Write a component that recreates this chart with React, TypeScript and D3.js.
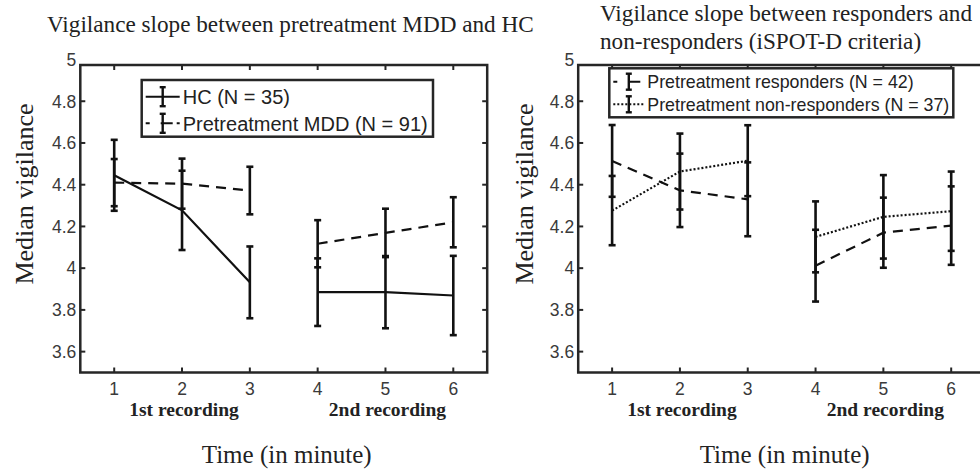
import React from 'react';
import * as d3 from 'd3';

// ---------- data ----------
const MINUTES = [1, 2, 3, 4, 5, 6];
const RECORDING = [1, 1, 1, 2, 2, 2];
const RECORDING_LABELS = ['1st recording', '2nd recording'];
const RECORDING_LABEL_AT = [2, 5];
const Y_TICKS = [3.6, 3.8, 4, 4.2, 4.4, 4.6, 4.8, 5];
const Y_DOMAIN = [3.5, 5];
const X_DOMAIN = [0.5, 6.5];

const HC_MEAN = [4.445, 4.277, 3.932, 3.885, 3.885, 3.869];
const HC_ERR = [0.17, 0.19, 0.172, 0.162, 0.173, 0.19];
const MDD_MEAN = [4.41, 4.405, 4.372, 4.117, 4.169, 4.22];
const MDD_ERR = [0.113, 0.12, 0.114, 0.113, 0.116, 0.12];
const RESP_MEAN = [4.514, 4.373, 4.33, 4.012, 4.17, 4.204];
const RESP_ERR = [0.172, 0.176, 0.177, 0.172, 0.168, 0.188];
const NONRESP_MEAN = [4.276, 4.463, 4.515, 4.15, 4.246, 4.273];
const NONRESP_ERR = [0.166, 0.182, 0.17, 0.17, 0.2, 0.19];

const LEFT_TITLE = ['Vigilance slope between pretreatment MDD and HC'];
const RIGHT_TITLE = ['Vigilance slope between responders and', 'non-responders (iSPOT-D criteria)'];
const Y_LABEL = 'Median vigilance';
const X_LABEL = 'Time (in minute)';

// ---------- styles ----------
const SERIF = '"Liberation Serif", "Times New Roman", serif';
const SANS = '"Liberation Sans", Arial, sans-serif';
const FRAME = '#262626';
const TICK_TEXT = '#3a3a3a';
const DASH = '10,7';
const DOT = '2,2';

type Series = { mean: number[]; err: number[]; dash: string | null; label: string };

type PanelProps = {
  x0: number;
  x1: number;
  title: string[];
  titleX: number;
  titleY: number[];
  series: Series[];
  legend: { x: number; y: number; w: number; h: number; rowY: number[]; fontSize: number; barHalf: number; sampleW: number };
  yLabelX: number;
};

const FRAME_TOP = 65;
const Y_RANGE = [372.5, 59.5];

function Panel({ x0, x1, title, titleX, titleY, series, legend, yLabelX }: PanelProps) {
  const x = d3.scaleLinear().domain(X_DOMAIN).range([x0, x1]);
  const y = d3.scaleLinear().domain(Y_DOMAIN).range(Y_RANGE);
  const bottom = y(Y_DOMAIN[0]);
  const groups = Array.from(new Set(RECORDING));
  const cap = 3.5;
  const tickLen = 5;

  return (
    <g>
      {title.map((t, i) => (
        <text key={i} x={titleX} y={titleY[i]} fontFamily={SERIF} fontSize={23.2} fill="#222">
          {t}
        </text>
      ))}

      {/* data */}
      {series.map((s, si) => {
        const l = d3
          .line<number>()
          .x((i) => x(MINUTES[i]))
          .y((i) => y(s.mean[i]));
        return (
          <g key={si}>
            {groups.map((g) => {
              const idx = MINUTES.map((_, i) => i).filter((i) => RECORDING[i] === g);
              return (
                <path
                  key={g}
                  d={l(idx) || ''}
                  fill="none"
                  stroke="#111"
                  strokeWidth={2.2}
                  strokeDasharray={s.dash || undefined}
                />
              );
            })}
            {MINUTES.map((m, i) => {
              const cx = x(m);
              const yt = y(s.mean[i] + s.err[i]);
              const yb = y(s.mean[i] - s.err[i]);
              return (
                <g key={i} stroke="#111" strokeWidth={2.6}>
                  <line x1={cx} x2={cx} y1={yt} y2={yb} />
                  <line x1={cx - cap} x2={cx + cap} y1={yt} y2={yt} />
                  <line x1={cx - cap} x2={cx + cap} y1={yb} y2={yb} />
                </g>
              );
            })}
          </g>
        );
      })}

      {/* frame */}
      <rect x={x0} y={FRAME_TOP} width={x1 - x0} height={bottom - FRAME_TOP} fill="none" stroke={FRAME} strokeWidth={2.5} />
      {MINUTES.map((m) => (
        <g key={m} stroke={FRAME} strokeWidth={2}>
          <line x1={x(m)} x2={x(m)} y1={bottom} y2={bottom - tickLen} />
          <line x1={x(m)} x2={x(m)} y1={FRAME_TOP} y2={FRAME_TOP + tickLen} />
        </g>
      ))}
      {Y_TICKS.filter((t) => y(t) > FRAME_TOP + 2).map((t) => (
        <g key={t} stroke={FRAME} strokeWidth={2}>
          <line x1={x0} x2={x0 + tickLen} y1={y(t)} y2={y(t)} />
          <line x1={x1} x2={x1 - tickLen} y1={y(t)} y2={y(t)} />
        </g>
      ))}
      {Y_TICKS.map((t) => (
        <text key={t} x={x0 - 4} y={y(t)} dy="0.36em" textAnchor="end" fontFamily={SANS} fontSize={17.5} fill={TICK_TEXT}>
          {d3.format('~g')(t)}
        </text>
      ))}
      {MINUTES.map((m) => (
        <text key={m} x={x(m)} y={395} textAnchor="middle" fontFamily={SANS} fontSize={17.5} fill={TICK_TEXT}>
          {m}
        </text>
      ))}
      {RECORDING_LABELS.map((r, i) => (
        <text key={r} x={x(RECORDING_LABEL_AT[i]) + 2} y={416} textAnchor="middle" fontFamily={SERIF} fontWeight="bold" fontSize={19.5} fill="#222">
          {r}
        </text>
      ))}
      <text x={(x0 + x1) / 2 + 3} y={463} textAnchor="middle" fontFamily={SERIF} fontSize={25} fill="#222">
        {X_LABEL}
      </text>
      <text
        transform={`translate(${yLabelX},194) rotate(-90)`}
        textAnchor="middle"
        dy="0.35em"
        fontFamily={SERIF}
        fontSize={26}
        fill="#222"
      >
        {Y_LABEL}
      </text>

      {/* legend */}
      <rect x={legend.x} y={legend.y} width={legend.w} height={legend.h} fill="#fff" stroke={FRAME} strokeWidth={2.5} />
      {series.map((s, si) => {
        const ly = legend.rowY[si];
        const sx = legend.x + 4;
        const bx = sx + legend.sampleW / 2;
        return (
          <g key={si}>
            <line
              x1={sx}
              x2={sx + legend.sampleW}
              y1={ly}
              y2={ly}
              stroke="#111"
              strokeWidth={2}
              strokeDasharray={s.dash ? (s.dash === DASH ? '4,11,12' : s.dash) : undefined}
            />
            <g stroke="#111" strokeWidth={2.4}>
              <line x1={bx} x2={bx} y1={ly - legend.barHalf} y2={ly + legend.barHalf} />
              <line x1={bx - 3} x2={bx + 3} y1={ly - legend.barHalf} y2={ly - legend.barHalf} />
              <line x1={bx - 3} x2={bx + 3} y1={ly + legend.barHalf} y2={ly + legend.barHalf} />
            </g>
            <text x={sx + legend.sampleW + 3} y={ly} dy="0.36em" fontFamily={SANS} fontSize={legend.fontSize} fill="#222">
              {s.label}
            </text>
          </g>
        );
      })}
    </g>
  );
}

export default function App() {
  const leftSeries: Series[] = [
    { mean: HC_MEAN, err: HC_ERR, dash: null, label: 'HC (N = 35)' },
    { mean: MDD_MEAN, err: MDD_ERR, dash: DASH, label: 'Pretreatment MDD (N = 91)' },
  ];
  const rightSeries: Series[] = [
    { mean: RESP_MEAN, err: RESP_ERR, dash: DASH, label: 'Pretreatment responders (N = 42)' },
    { mean: NONRESP_MEAN, err: NONRESP_ERR, dash: DOT, label: 'Pretreatment non-responders (N = 37)' },
  ];
  return (
    <svg
      width={980}
      height={472}
      style={{ position: 'absolute', left: 0, top: 0, background: '#fff' }}
    >
      <rect width={980} height={472} fill="#fff" />
      <Panel
        x0={80.3}
        x1={487.2}
        title={LEFT_TITLE}
        titleX={47}
        titleY={[32]}
        series={leftSeries}
        legend={{ x: 141.7, y: 80, w: 291.3, h: 56.7, rowY: [96.7, 123.3], fontSize: 20, barHalf: 9.5, sampleW: 34 }}
        yLabelX={24}
      />
      <Panel
        x0={578.2}
        x1={985.1}
        title={RIGHT_TITLE}
        titleX={600}
        titleY={[21, 49]}
        series={rightSeries}
        legend={{ x: 609.3, y: 68.3, w: 344, h: 49, rowY: [81.7, 104.3], fontSize: 17.8, barHalf: 8, sampleW: 31 }}
        yLabelX={524}
      />
    </svg>
  );
}
